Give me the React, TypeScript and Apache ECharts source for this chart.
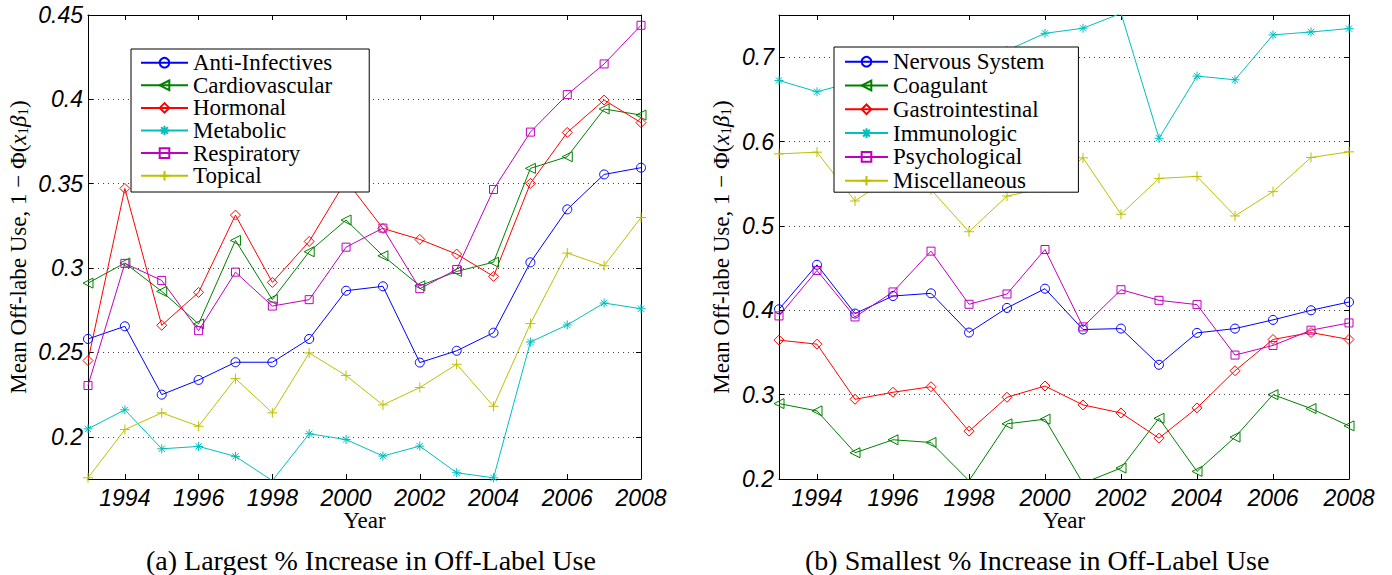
import React, { useEffect, useRef } from "react";
import * as echarts from "echarts";

// ---------- data ----------
const years = ["1993", "1994", "1995", "1996", "1997", "1998", "1999", "2000", "2001", "2002", "2003", "2004", "2005", "2006", "2007", "2008"];

// (a) Largest % increase
const antiInfectives = [0.258, 0.2655, 0.225, 0.2337, 0.2442, 0.2442, 0.258, 0.2866, 0.2892, 0.244, 0.251, 0.2617, 0.3034, 0.3348, 0.3555, 0.3595];
const cardiovascular = [0.2911, 0.303, 0.2862, 0.2669, 0.3164, 0.2813, 0.3097, 0.3285, 0.3073, 0.2895, 0.298, 0.3035, 0.3591, 0.366, 0.3943, 0.3907];
const hormonal = [0.2452, 0.3472, 0.2661, 0.2856, 0.3314, 0.2915, 0.3158, 0.352, 0.3235, 0.317, 0.3083, 0.2951, 0.3502, 0.3804, 0.3996, 0.3862];
const metabolic = [0.2047, 0.216, 0.1929, 0.1943, 0.1884, 0.174, 0.2018, 0.1984, 0.1886, 0.1945, 0.1787, 0.1757, 0.2562, 0.2663, 0.2793, 0.2759];
const respiratory = [0.2304, 0.3028, 0.2927, 0.2629, 0.2976, 0.2775, 0.2813, 0.3124, 0.3237, 0.2878, 0.2992, 0.3466, 0.3806, 0.4028, 0.421, 0.4439];
const topical = [0.1757, 0.2043, 0.2142, 0.2063, 0.2345, 0.2142, 0.2497, 0.2363, 0.2189, 0.2292, 0.243, 0.2181, 0.2671, 0.3089, 0.3014, 0.33];

// (b) Smallest % increase
const nervousSystem = [0.4012, 0.4539, 0.3961, 0.4169, 0.4201, 0.3736, 0.4028, 0.4256, 0.3772, 0.3783, 0.3354, 0.3732, 0.3783, 0.3886, 0.4, 0.4098];
const coagulant = [0.2894, 0.2807, 0.2311, 0.2465, 0.2433, 0.198, 0.2654, 0.2709, 0.195, 0.213, 0.272, 0.209, 0.2496, 0.3, 0.2835, 0.263];
const gastrointestinal = [0.3646, 0.3598, 0.2945, 0.3028, 0.3094, 0.2567, 0.2969, 0.3102, 0.2878, 0.2783, 0.2484, 0.2843, 0.3283, 0.3654, 0.3736, 0.3654];
const immunologic = [0.6724, 0.659, 0.671, 0.688, 0.702, 0.694, 0.708, 0.7283, 0.7343, 0.752, 0.6039, 0.6776, 0.6732, 0.7264, 0.7299, 0.7339];
const psychological = [0.3933, 0.4472, 0.3921, 0.4217, 0.4701, 0.4071, 0.4193, 0.472, 0.3803, 0.4244, 0.4118, 0.4067, 0.3469, 0.3583, 0.3764, 0.385];
const miscellaneous = [0.5854, 0.5874, 0.5295, 0.56, 0.543, 0.4931, 0.5354, 0.545, 0.5807, 0.5138, 0.5563, 0.5587, 0.5118, 0.5406, 0.5811, 0.5878];

const leftTicks = [0.2, 0.25, 0.3, 0.35, 0.4, 0.45];
const rightTicks = [0.2, 0.3, 0.4, 0.5, 0.6, 0.7];
const leftRange = [0.175, 0.45];
const rightRange = [0.2, 0.75];

const leftNames = ["Anti-Infectives", "Cardiovascular", "Hormonal", "Metabolic", "Respiratory", "Topical"];
const rightNames = ["Nervous System", "Coagulant", "Gastrointestinal", "Immunologic", "Psychological", "Miscellaneous"];

const captionA = "(a) Largest % Increase in Off-Label Use";
const captionB = "(b) Smallest % Increase in Off-Label Use";
const xTitle = "Year";
const yTitle = "Mean Off-labe Use, 1 − Φ({i|x}{s|1}{i|β}{s|1})";

// ---------- styles ----------
const SERIF = "Liberation Serif";
const SANS = "Liberation Sans";

const COLORS = ["#0000ff", "#008000", "#ff0000", "#00bfbf", "#bf00bf", "#bfbf00"];
const SYMBOLS = [
  "circle",
  "path://M1,-1L-1,0L1,1Z",
  "path://M0,-1L1,0L0,1L-1,0Z",
  "path://M0,-1L0,1M-1,0L1,0M-0.7,-0.7L0.7,0.7M-0.7,0.7L0.7,-0.7",
  "rect",
  "path://M0,-1L0,1M-1,0L1,0",
];
const SYMBOL_SIZES = [9, 10, 10, 9, 8, 10];

const evenYear = (_i: number, v: string) => Number(v) % 2 === 0;
const fmt = (v: number) => String(Math.round(v * 1000) / 1000);

function makeXAxes(gridIndex: number) {
  const base: any = {
    type: "category",
    gridIndex,
    data: years,
    boundaryGap: false,
    axisLine: { show: true, onZero: false, lineStyle: { color: "#000", width: 1 } },
    axisTick: { show: true, inside: true, length: 5, interval: evenYear, lineStyle: { color: "#000" } },
    splitLine: { show: false },
  };
  return [
    {
      ...base,
      position: "bottom",
      axisLabel: { show: true, interval: evenYear, fontFamily: SANS, fontStyle: "italic", fontSize: 23, color: "#000", margin: 7 },
      name: xTitle,
      nameLocation: "middle",
      nameGap: 30,
      nameMoveOverlap: false,
      nameTextStyle: { fontFamily: SERIF, fontSize: 23, color: "#000" },
    },
    { ...base, position: "top", axisLabel: { show: false } },
  ];
}

function makeYAxes(gridIndex: number, range: number[], ticks: number[], nameGap: number) {
  const base: any = {
    type: "value",
    gridIndex,
    min: range[0],
    max: range[1],
    splitNumber: 5,
    axisLine: { show: true, onZero: false, lineStyle: { color: "#000", width: 1 } },
    axisTick: { show: true, inside: true, length: 5, customValues: ticks, lineStyle: { color: "#000" } },
  };
  return [
    {
      ...base,
      position: "left",
      axisLabel: { show: true, customValues: ticks, formatter: fmt, fontFamily: SANS, fontStyle: "italic", fontSize: 23, color: "#000", margin: 5 },
      splitLine: { show: true, lineStyle: { color: "#444", width: 1, type: [1, 4] } },
      name: yTitle,
      nameLocation: "middle",
      nameRotate: 90,
      nameGap,
      nameTextStyle: {
        fontFamily: SERIF,
        fontSize: 23,
        color: "#000",
        rich: {
          i: { fontFamily: SERIF, fontSize: 23, fontStyle: "italic", color: "#000" },
          s: { fontFamily: SERIF, fontSize: 15, color: "#000", verticalAlign: "bottom" },
        },
      },
    },
    { ...base, position: "right", axisLabel: { show: false }, splitLine: { show: false } },
  ];
}

function makeSeries(names: string[], datasets: number[][], axisIndex: number) {
  return names.map((name, k) => ({
    type: "line",
    name,
    xAxisIndex: axisIndex,
    yAxisIndex: axisIndex,
    data: datasets[k],
    symbol: SYMBOLS[k],
    symbolSize: SYMBOL_SIZES[k],
    showSymbol: true,
    showAllSymbol: true,
    lineStyle: { color: COLORS[k], width: 1 },
    itemStyle: { color: "rgba(0,0,0,0)", borderColor: COLORS[k], borderWidth: 1 },
    emphasis: { disabled: true },
    z: 3,
  }));
}

function makeLegend(names: string[], left: number, top: number, padding: number[], itemWidth: number, itemGap: number) {
  return {
    data: names,
    orient: "vertical",
    left,
    top,
    padding,
    itemWidth,
    itemHeight: 12,
    itemGap,
    backgroundColor: "#fff",
    borderColor: "#000",
    borderWidth: 1,
    borderRadius: 0,
    selectedMode: false,
    z: 10,
    textStyle: { fontFamily: SERIF, fontSize: 23, color: "#000" },
  };
}

export default function App() {
  const ref = useRef<HTMLDivElement>(null);
  useEffect(() => {
    if (!ref.current) return;
    const chart = echarts.init(ref.current, null, { renderer: "svg" });
    const option: any = {
      animation: false,
      backgroundColor: "#fff",
      grid: [
        { left: 88, top: 15, width: 553, height: 464, outerBoundsMode: "none" },
        { left: 779, top: 15, width: 570, height: 464, outerBoundsMode: "none" },
      ],
      xAxis: [...makeXAxes(0), ...makeXAxes(1)],
      yAxis: [...makeYAxes(0, leftRange, leftTicks, 58), ...makeYAxes(1, rightRange, rightTicks, 46)],
      legend: [
        makeLegend(leftNames, 131, 49, [2.2, 37, 4.8, 9], 47, -0.4),
        makeLegend(rightNames, 834, 47, [3.2, 34, 0, 10], 43, 0.8),
      ],
      series: [
        ...makeSeries(leftNames, [antiInfectives, cardiovascular, hormonal, metabolic, respiratory, topical], 0),
        ...makeSeries(rightNames, [nervousSystem, coagulant, gastrointestinal, immunologic, psychological, miscellaneous], 2),
      ],
      graphic: [
        {
          type: "text",
          x: 146,
          y: 546,
          style: { text: captionA, fontFamily: SERIF, fontSize: 28, fill: "#000" },
        },
        {
          type: "text",
          x: 805,
          y: 546,
          style: { text: captionB, fontFamily: SERIF, fontSize: 28, fill: "#000" },
        },
      ],
    };
    chart.setOption(option);
    return () => chart.dispose();
  }, []);
  return <div ref={ref} style={{ position: "absolute", left: 0, top: 0, width: 1392, height: 575 }} />;
}
